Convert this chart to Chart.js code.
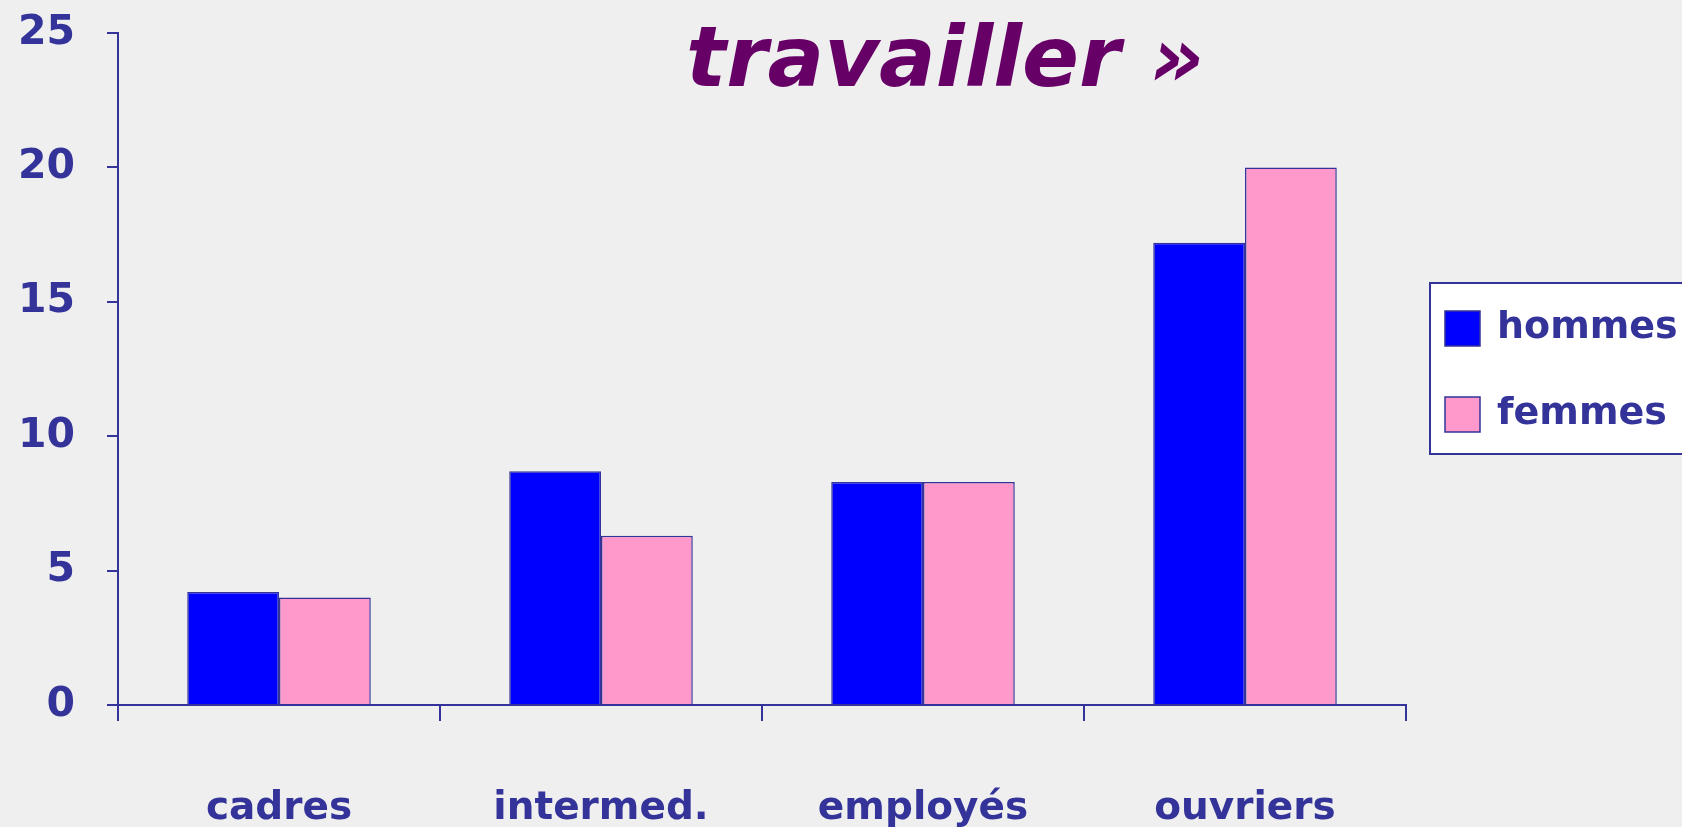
<!DOCTYPE html>
<html>
<head>
<meta charset="utf-8">
<script src="https://cdn.jsdelivr.net/npm/chart.js@4/dist/chart.umd.min.js"></script>
<style>
  html, body { margin: 0; padding: 0; background: #efefef; }
  #wrap { width: 1682px; height: 827px; position: relative; }
</style>
</head>
<body>
<div id="wrap"><canvas id="c" width="1682" height="827"></canvas></div>
<script>
const categories = ['cadres', 'intermed.', 'employés', 'ouvriers'];
const hommes = [4.2, 8.7, 8.3, 17.2];
const femmes = [4.0, 6.3, 8.3, 20.0];
const seriesNames = ['hommes', 'femmes'];
const yTicks = [0, 5, 10, 15, 20, 25];
const titleText = 'travailler »';

const INK = '#333399';
const FONT = "'Comic Sans MS', 'DejaVu Sans', sans-serif";

const bgPlugin = {
  id: 'bg',
  beforeDraw(chart) {
    const ctx = chart.ctx;
    ctx.save();
    ctx.fillStyle = '#efefef';
    ctx.fillRect(0, 0, chart.width, chart.height);
    ctx.restore();
  }
};

const titlePlugin = {
  id: 'customTitle',
  afterDraw(chart) {
    const ctx = chart.ctx;
    ctx.save();
    ctx.font = "italic bold 84px " + FONT;
    ctx.fillStyle = '#660066';
    ctx.textAlign = 'left';
    ctx.textBaseline = 'alphabetic';
    ctx.fillText(titleText, 686, 86);
    ctx.restore();
  }
};

const legendPlugin = {
  id: 'customLegend',
  afterDraw(chart) {
    const ctx = chart.ctx;
    ctx.save();
    ctx.fillStyle = '#ffffff';
    ctx.fillRect(1430, 283, 270, 171);
    ctx.strokeStyle = INK;
    ctx.lineWidth = 2;
    ctx.strokeRect(1430, 283, 270, 171);
    const rows = [328, 414];
    chart.data.datasets.forEach((ds, i) => {
      const cy = rows[i];
      ctx.fillStyle = ds.backgroundColor;
      ctx.fillRect(1445, cy - 17, 35, 35);
      ctx.strokeStyle = INK;
      ctx.lineWidth = 1.5;
      ctx.strokeRect(1445, cy - 17, 35, 35);
      ctx.fillStyle = INK;
      ctx.font = "bold 38px " + FONT;
      ctx.textAlign = 'left';
      ctx.textBaseline = 'middle';
      ctx.fillText(ds.label, 1497, cy);
    });
    ctx.restore();
  }
};

new Chart(document.getElementById('c'), {
  type: 'bar',
  data: {
    labels: categories,
    datasets: [
      { label: seriesNames[0], data: hommes, backgroundColor: '#0000ff', borderColor: INK, borderWidth: 1.5 },
      { label: seriesNames[1], data: femmes, backgroundColor: '#ff99cc', borderColor: INK, borderWidth: 1.5 }
    ]
  },
  options: {
    responsive: false,
    animation: false,
    devicePixelRatio: 1,
    layout: { padding: { top: 33, right: 276, left: 0, bottom: 0 } },
    plugins: { legend: { display: false }, tooltip: { enabled: false }, title: { display: false } },
    datasets: { bar: { categoryPercentage: 0.57, barPercentage: 1.0 } },
    scales: {
      x: {
        offset: true,
        afterFit(s) { s.height = 122; s.paddingLeft = 0; s.paddingRight = 0; },
        grid: { display: true, offset: true, drawOnChartArea: false, drawTicks: true, tickLength: 16, color: INK, lineWidth: 2 },
        border: { display: true, color: INK, width: 2 },
        ticks: { color: INK, font: { family: FONT, size: 39, weight: 'bold' }, padding: 64, maxRotation: 0 }
      },
      y: {
        min: 0, max: 25,
        afterFit(s) { s.width = 118; s.paddingTop = 0; s.paddingBottom = 0; },
        afterBuildTicks(s) { s.ticks = yTicks.map(v => ({ value: v })); },
        grid: { display: true, drawOnChartArea: false, drawTicks: true, tickLength: 11, color: INK, lineWidth: 2 },
        border: { display: true, color: INK, width: 2 },
        ticks: { color: INK, font: { family: FONT, size: 41, weight: 'bold' }, padding: 32 }
      }
    }
  },
  plugins: [bgPlugin, titlePlugin, legendPlugin]
});
</script>
</body>
</html>
